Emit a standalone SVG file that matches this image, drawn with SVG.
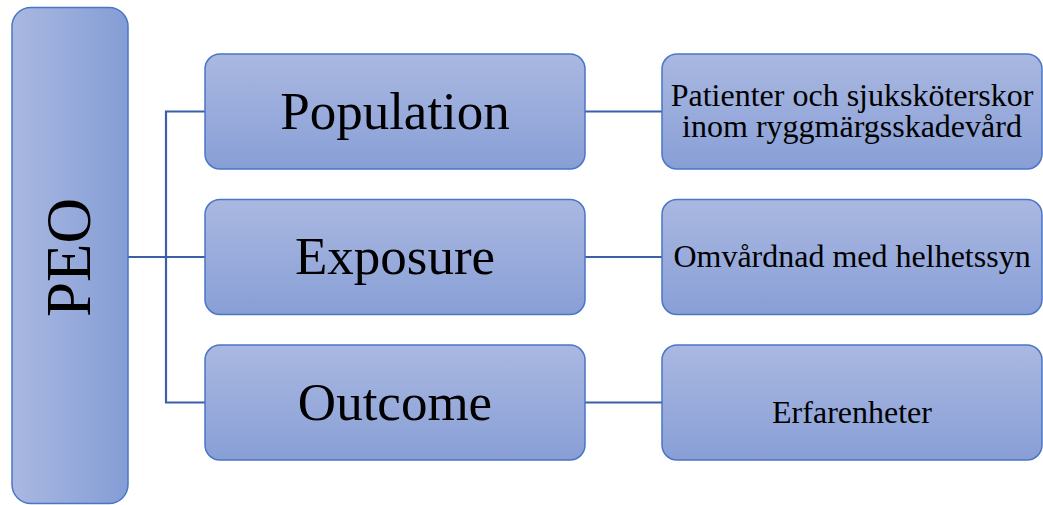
<svg xmlns="http://www.w3.org/2000/svg" width="1043" height="505" viewBox="0 0 1043 505">
  <defs>
    <linearGradient id="gv" x1="0" y1="0" x2="0" y2="1">
      <stop offset="0" stop-color="#aab8e1"/>
      <stop offset="1" stop-color="#889fd6"/>
    </linearGradient>
    <linearGradient id="gh" x1="0" y1="0" x2="1" y2="0">
      <stop offset="0" stop-color="#aab8e1"/>
      <stop offset="1" stop-color="#849dd5"/>
    </linearGradient>
    <style>
      .box { fill: url(#gv); stroke: #4a76c6; stroke-width: 1.5; }
      .root { fill: url(#gh); stroke: #4a76c6; stroke-width: 1.5; }
      .conn { fill: none; stroke: #3b5fa9; stroke-width: 2.2; }
      .big { font-family: "Liberation Serif", "Times New Roman", serif; font-size: 53px; fill: #000; text-anchor: middle; }
      .small { font-family: "Liberation Serif", "Times New Roman", serif; font-size: 32px; fill: #000; text-anchor: middle; }
      .peo { font-family: "Liberation Serif", "Times New Roman", serif; font-size: 63px; fill: #000; text-anchor: middle; }
    </style>
  </defs>
  <rect width="1043" height="505" fill="#ffffff"/>
  <g id="connectors">
    <polyline class="conn" points="128,257 166,257"/>
    <polyline class="conn" points="205,111.5 166,111.5 166,402.5 205,402.5"/>
    <polyline class="conn" points="166,257 205,257"/>
    <line class="conn" x1="585" y1="111.5" x2="662" y2="111.5"/>
    <line class="conn" x1="585" y1="257" x2="662" y2="257"/>
    <line class="conn" x1="585" y1="402.5" x2="662" y2="402.5"/>
  </g>
  <g id="peo">
    <rect class="root" x="12" y="7.5" width="116" height="496" rx="19" ry="19"/>
    <text class="peo" transform="translate(90,257.5) rotate(-90)" x="0" y="0">PEO</text>
  </g>
  <g id="population">
    <rect class="box" x="205" y="54" width="380" height="115" rx="15" ry="15"/>
    <text class="big" x="395" y="128.5">Population</text>
  </g>
  <g id="exposure">
    <rect class="box" x="205" y="199.5" width="380" height="115" rx="15" ry="15"/>
    <text class="big" x="395" y="274">Exposure</text>
  </g>
  <g id="outcome">
    <rect class="box" x="205" y="345" width="380" height="115" rx="15" ry="15"/>
    <text class="big" x="395" y="419.5">Outcome</text>
  </g>
  <g id="population-detail">
    <rect class="box" x="662" y="54" width="380" height="115" rx="15" ry="15"/>
    <text class="small" x="852" y="105.5">Patienter och sjuksköterskor</text>
    <text class="small" x="852" y="137">inom ryggmärgsskadevård</text>
  </g>
  <g id="exposure-detail">
    <rect class="box" x="662" y="199.5" width="380" height="115" rx="15" ry="15"/>
    <text class="small" x="852" y="267">Omvårdnad med helhetssyn</text>
  </g>
  <g id="outcome-detail">
    <rect class="box" x="662" y="345" width="380" height="115" rx="15" ry="15"/>
    <text class="small" x="852" y="423">Erfarenheter</text>
  </g>
</svg>
